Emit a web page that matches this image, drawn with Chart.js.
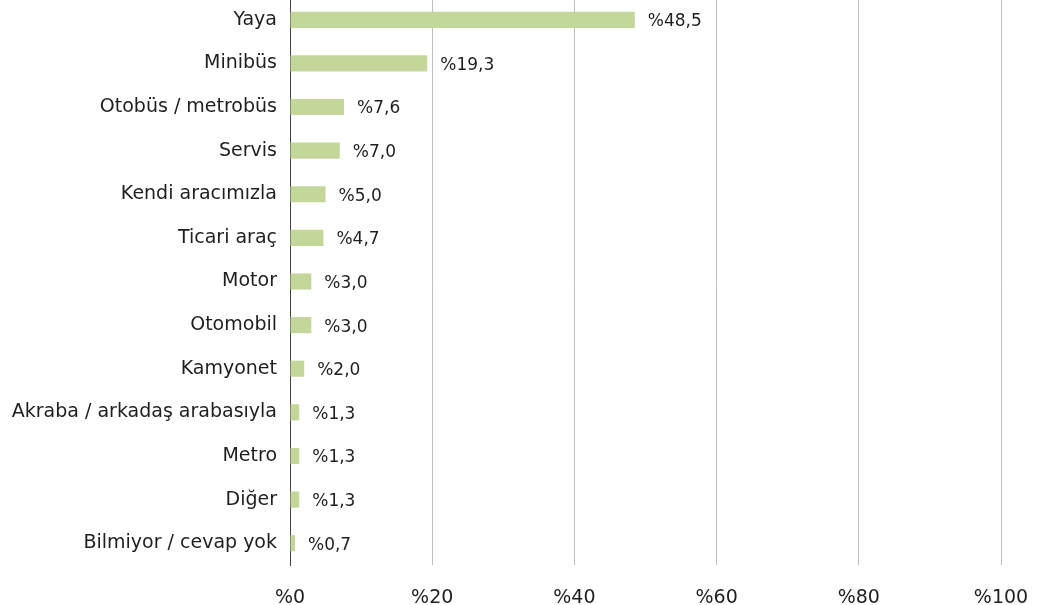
<!DOCTYPE html>
<html>
<head>
<meta charset="utf-8">
<script src="https://cdn.jsdelivr.net/npm/chart.js@4"></script>
<style>
  html, body { margin: 0; padding: 0; background: #fff; overflow: hidden; }
  #wrap { position: absolute; left: 0; top: -2px; width: 1038px; height: 607px; }
</style>
</head>
<body>
<div id="wrap"><canvas id="chart"></canvas></div>
<script>
  // Ulaşım şekli (%)
  const categories = [
    'Yaya', 'Minibüs', 'Otobüs / metrobüs', 'Servis', 'Kendi aracımızla',
    'Ticari araç', 'Motor', 'Otomobil', 'Kamyonet', 'Akraba / arkadaş arabasıyla',
    'Metro', 'Diğer', 'Bilmiyor / cevap yok'
  ];
  const shares = [48.5, 19.3, 7.6, 7.0, 5.0, 4.7, 3.0, 3.0, 2.0, 1.3, 1.3, 1.3, 0.7];
  const xTicks = [0, 20, 40, 60, 80, 100];

  const FONT = "'DejaVu Sans', sans-serif";
  const fmt = v => '%' + v.toFixed(1).replace('.', ',');

  // bar sonuna değer etiketi
  const valueLabels = {
    id: 'valueLabels',
    afterDatasetsDraw(chart) {
      const ctx = chart.ctx;
      const meta = chart.getDatasetMeta(0);
      ctx.save();
      ctx.font = '17px ' + FONT;
      ctx.fillStyle = '#1f1f1f';
      ctx.textAlign = 'left';
      ctx.textBaseline = 'middle';
      meta.data.forEach((bar, i) => {
        ctx.fillText(fmt(shares[i]), bar.x + 13, bar.y + 2);
      });
      ctx.restore();
    }
  };

  new Chart(document.getElementById('chart'), {
    type: 'bar',
    data: {
      labels: categories,
      datasets: [{
        data: shares,
        backgroundColor: '#c4d79b',
        borderWidth: 0,
        categoryPercentage: 1,
        barPercentage: 0.37
      }]
    },
    options: {
      indexAxis: 'y',
      responsive: true,
      maintainAspectRatio: false,
      animation: false,
      layout: { padding: { top: 0, right: 37, bottom: 0, left: 0 } },
      plugins: { legend: { display: false }, tooltip: { enabled: false } },
      scales: {
        x: {
          min: 0, max: 100,
          afterBuildTicks: s => { s.ticks = xTicks.map(v => ({ value: v })); },
          afterFit: s => { s.height = 40; s.paddingLeft = 0; s.paddingRight = 0; },
          grid: { color: '#bfbfbf', lineWidth: 1, drawTicks: false },
          border: { display: false },
          ticks: {
            font: { family: FONT, size: 19 },
            color: '#1f1f1f',
            padding: 22,
            callback: v => '%' + v
          }
        },
        y: {
          afterFit: s => { s.width = 290; s.paddingTop = 0; s.paddingBottom = 0; },
          grid: { display: false, drawTicks: false },
          border: { display: true, color: '#404040', width: 1 },
          ticks: {
            font: { family: FONT, size: 19 },
            color: '#1f1f1f',
            padding: 13
          }
        }
      }
    },
    plugins: [valueLabels]
  });
</script>
</body>
</html>
